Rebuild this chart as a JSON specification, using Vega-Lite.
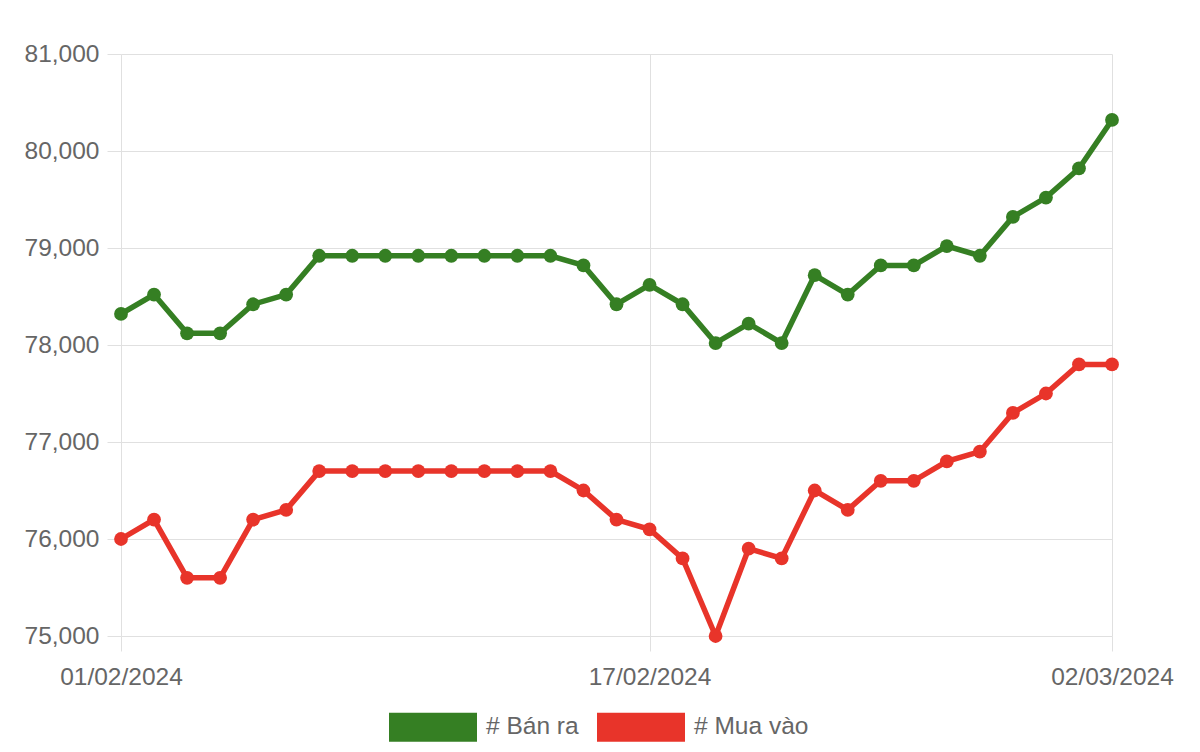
{
  "$schema": "https://vega.github.io/schema/vega-lite/v6.json",
  "width": 991,
  "height": 582,
  "autosize": {"type": "none"},
  "padding": {"left": 121, "top": 54, "right": 88, "bottom": 116},
  "background": "white",
  "config": {
    "view": {"stroke": null},
    "font": "Liberation Sans"
  },
  "data": {
    "values": [
      {"date": "01/02/2024", "series": "# Bán ra", "value": 78320},
      {"date": "02/02/2024", "series": "# Bán ra", "value": 78520},
      {"date": "03/02/2024", "series": "# Bán ra", "value": 78120},
      {"date": "04/02/2024", "series": "# Bán ra", "value": 78120},
      {"date": "05/02/2024", "series": "# Bán ra", "value": 78420},
      {"date": "06/02/2024", "series": "# Bán ra", "value": 78520},
      {"date": "07/02/2024", "series": "# Bán ra", "value": 78920},
      {"date": "08/02/2024", "series": "# Bán ra", "value": 78920},
      {"date": "09/02/2024", "series": "# Bán ra", "value": 78920},
      {"date": "10/02/2024", "series": "# Bán ra", "value": 78920},
      {"date": "11/02/2024", "series": "# Bán ra", "value": 78920},
      {"date": "12/02/2024", "series": "# Bán ra", "value": 78920},
      {"date": "13/02/2024", "series": "# Bán ra", "value": 78920},
      {"date": "14/02/2024", "series": "# Bán ra", "value": 78920},
      {"date": "15/02/2024", "series": "# Bán ra", "value": 78820},
      {"date": "16/02/2024", "series": "# Bán ra", "value": 78420},
      {"date": "17/02/2024", "series": "# Bán ra", "value": 78620},
      {"date": "18/02/2024", "series": "# Bán ra", "value": 78420},
      {"date": "19/02/2024", "series": "# Bán ra", "value": 78020},
      {"date": "20/02/2024", "series": "# Bán ra", "value": 78220},
      {"date": "21/02/2024", "series": "# Bán ra", "value": 78020},
      {"date": "22/02/2024", "series": "# Bán ra", "value": 78720},
      {"date": "23/02/2024", "series": "# Bán ra", "value": 78520},
      {"date": "24/02/2024", "series": "# Bán ra", "value": 78820},
      {"date": "25/02/2024", "series": "# Bán ra", "value": 78820},
      {"date": "26/02/2024", "series": "# Bán ra", "value": 79020},
      {"date": "27/02/2024", "series": "# Bán ra", "value": 78920},
      {"date": "28/02/2024", "series": "# Bán ra", "value": 79320},
      {"date": "29/02/2024", "series": "# Bán ra", "value": 79520},
      {"date": "01/03/2024", "series": "# Bán ra", "value": 79820},
      {"date": "02/03/2024", "series": "# Bán ra", "value": 80320},
      {"date": "01/02/2024", "series": "# Mua vào", "value": 76000},
      {"date": "02/02/2024", "series": "# Mua vào", "value": 76200},
      {"date": "03/02/2024", "series": "# Mua vào", "value": 75600},
      {"date": "04/02/2024", "series": "# Mua vào", "value": 75600},
      {"date": "05/02/2024", "series": "# Mua vào", "value": 76200},
      {"date": "06/02/2024", "series": "# Mua vào", "value": 76300},
      {"date": "07/02/2024", "series": "# Mua vào", "value": 76700},
      {"date": "08/02/2024", "series": "# Mua vào", "value": 76700},
      {"date": "09/02/2024", "series": "# Mua vào", "value": 76700},
      {"date": "10/02/2024", "series": "# Mua vào", "value": 76700},
      {"date": "11/02/2024", "series": "# Mua vào", "value": 76700},
      {"date": "12/02/2024", "series": "# Mua vào", "value": 76700},
      {"date": "13/02/2024", "series": "# Mua vào", "value": 76700},
      {"date": "14/02/2024", "series": "# Mua vào", "value": 76700},
      {"date": "15/02/2024", "series": "# Mua vào", "value": 76500},
      {"date": "16/02/2024", "series": "# Mua vào", "value": 76200},
      {"date": "17/02/2024", "series": "# Mua vào", "value": 76100},
      {"date": "18/02/2024", "series": "# Mua vào", "value": 75800},
      {"date": "19/02/2024", "series": "# Mua vào", "value": 75000},
      {"date": "20/02/2024", "series": "# Mua vào", "value": 75900},
      {"date": "21/02/2024", "series": "# Mua vào", "value": 75800},
      {"date": "22/02/2024", "series": "# Mua vào", "value": 76500},
      {"date": "23/02/2024", "series": "# Mua vào", "value": 76300},
      {"date": "24/02/2024", "series": "# Mua vào", "value": 76600},
      {"date": "25/02/2024", "series": "# Mua vào", "value": 76600},
      {"date": "26/02/2024", "series": "# Mua vào", "value": 76800},
      {"date": "27/02/2024", "series": "# Mua vào", "value": 76900},
      {"date": "28/02/2024", "series": "# Mua vào", "value": 77300},
      {"date": "29/02/2024", "series": "# Mua vào", "value": 77500},
      {"date": "01/03/2024", "series": "# Mua vào", "value": 77800},
      {"date": "02/03/2024", "series": "# Mua vào", "value": 77800}
    ]
  },
  "encoding": {
    "x": {
      "field": "date",
      "type": "ordinal",
      "sort": null,
      "scale": {"type": "point", "padding": 0},
      "axis": {
        "title": null,
        "values": ["01/02/2024", "17/02/2024", "02/03/2024"],
        "labelAngle": 0,
        "labelAlign": "center",
        "labelFontSize": 24.5,
        "labelColor": "#666666",
        "labelPadding": 14,
        "labelOverlap": false,
        "labelBound": false,
        "labelFlush": false,
        "tickSize": 15,
        "tickColor": "#e0e0e0",
        "tickWidth": 1,
        "domain": false,
        "grid": true,
        "gridColor": "#e0e0e0",
        "gridWidth": 1
      }
    },
    "y": {
      "field": "value",
      "type": "quantitative",
      "scale": {"domain": [75000, 81000], "nice": false, "zero": false},
      "axis": {
        "title": null,
        "values": [75000, 76000, 77000, 78000, 79000, 80000, 81000],
        "format": ",d",
        "labelFontSize": 24.5,
        "labelColor": "#666666",
        "labelPadding": 8,
        "tickSize": 14,
        "tickColor": "#e0e0e0",
        "domain": false,
        "grid": true,
        "gridColor": "#e0e0e0",
        "gridWidth": 1
      }
    },
    "color": {
      "field": "series",
      "type": "nominal",
      "scale": {"domain": ["# Bán ra", "# Mua vào"], "range": ["#357f23", "#e8342a"]},
      "legend": {
        "title": null,
        "orient": "none",
        "direction": "horizontal",
        "legendX": 268,
        "legendY": 629,
        "symbolType": "M-1,-0.33H1V0.33H-1Z",
        "symbolSize": 7744,
        "symbolStrokeWidth": 0,
        "symbolOpacity": 1,
        "labelFontSize": 24.5,
        "labelColor": "#666666",
        "labelOffset": 9,
        "columnPadding": 18
      }
    }
  },
  "layer": [
    {"mark": {"type": "line", "strokeWidth": 5.5}},
    {"mark": {"type": "point", "filled": true, "opacity": 1, "size": 190, "shape": "circle"}}
  ]
}
